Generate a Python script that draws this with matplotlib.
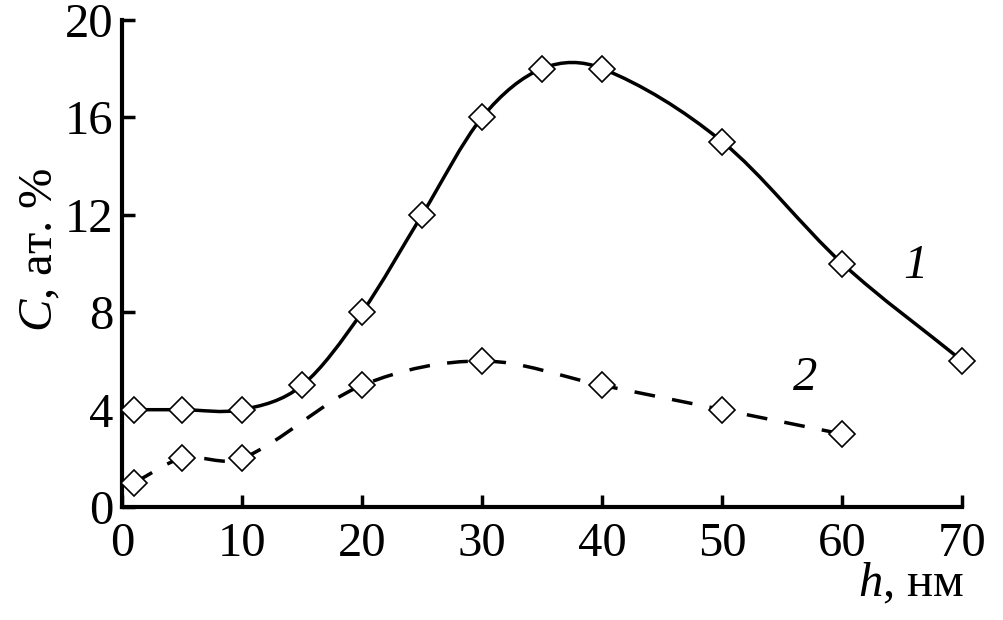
import matplotlib.pyplot as plt
from matplotlib.path import Path
from matplotlib.patches import PathPatch

# Data
h1 = [1, 5, 10, 15, 20, 25, 30, 35, 40, 50, 60, 70]
c1 = [4, 4, 4, 5, 8, 12, 16, 18, 18, 15, 10, 6]
h2 = [1, 5, 10, 20, 30, 40, 50, 60]
c2 = [1, 2, 2, 5, 6, 5, 4, 3]

x_ticks = [0, 10, 20, 30, 40, 50, 60, 70]
y_ticks = [0, 4, 8, 12, 16, 20]

plt.rcParams['font.family'] = ['Liberation Serif', 'DejaVu Serif']
plt.rcParams['mathtext.fontset'] = 'custom'
plt.rcParams['mathtext.rm'] = 'Liberation Serif'
plt.rcParams['mathtext.it'] = 'Liberation Serif:italic'

FS = 35


def smooth_path(x, y):
    # cubic Hermite segments, drawn as bezier curves
    n = len(x)
    m = []
    for i in range(n):
        a = max(i - 1, 0)
        b = min(i + 1, n - 1)
        m.append((y[b] - y[a]) / (x[b] - x[a]))
    verts = [(x[0], y[0])]
    codes = [Path.MOVETO]
    for i in range(n - 1):
        d = (x[i + 1] - x[i]) / 3.0
        verts += [(x[i] + d, y[i] + m[i] * d),
                  (x[i + 1] - d, y[i + 1] - m[i + 1] * d),
                  (x[i + 1], y[i + 1])]
        codes += [Path.CURVE4] * 3
    return Path(verts, codes)


fig = plt.figure(figsize=(10.04, 6.2), dpi=100)
ax = fig.add_axes([0.1215, 0.182, 0.837, 0.786])

ax.add_patch(PathPatch(smooth_path(h1, c1), fill=False, lw=2.5,
                       edgecolor='black', zorder=2))
ax.add_patch(PathPatch(smooth_path(h2, c2), fill=False, lw=2.5,
                       edgecolor='black', linestyle=(0, (6, 5)), zorder=2))

ax.plot(h1, c1, 'D', ms=13, mfc='white', mec='black', mew=1.2, zorder=3,
        clip_on=False)
ax.plot(h2, c2, 'D', ms=13, mfc='white', mec='black', mew=1.2, zorder=3,
        clip_on=False)

ax.set_xlim(0, 70)
ax.set_ylim(0, 20)
ax.set_xticks(x_ticks)
ax.set_yticks(y_ticks)

for s in ['top', 'right']:
    ax.spines[s].set_visible(False)
for s in ['left', 'bottom']:
    ax.spines[s].set_linewidth(3)

ax.tick_params(direction='in', length=9, width=2.5, labelsize=FS)
ax.tick_params(axis='x', pad=11)
ax.tick_params(axis='y', pad=6)

ax.text(66.1, 9.9, '1', fontsize=FS, style='italic', ha='center', va='center')
ax.text(56.9, 5.3, '2', fontsize=FS, style='italic', ha='center', va='center')

fig.text(40 / 1004, 1 - 250 / 620, r'$C$, ат. %', fontsize=FS,
         rotation=90, ha='center', va='center')
fig.text(911 / 1004, 1 - 584 / 620, r'$h$, нм', fontsize=FS,
         ha='center', va='center')

fig.savefig('out.png', dpi=100)
